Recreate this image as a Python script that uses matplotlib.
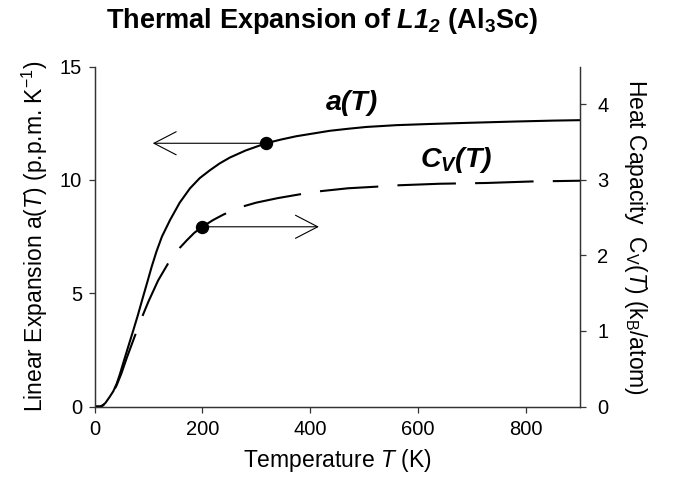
import matplotlib
matplotlib.use("Agg")
import matplotlib.pyplot as plt
import numpy as np

plt.rcParams['font.family'] = ['Liberation Sans', 'DejaVu Sans']
plt.rcParams['mathtext.fontset'] = 'custom'
plt.rcParams['mathtext.rm'] = 'Liberation Sans'
plt.rcParams['mathtext.it'] = 'Liberation Sans:italic'
plt.rcParams['mathtext.bf'] = 'Liberation Sans:italic:bold'
plt.rcParams['mathtext.sf'] = 'Liberation Sans:bold'

# ---- data ----
T_expansion = [0, 10, 15, 20, 28, 35, 41, 47, 53, 62, 72, 80, 90, 98, 106, 115,
               125, 140, 158, 177, 195, 214, 232, 251, 280, 318, 345, 374, 405,
               436, 470, 504, 560, 620, 689, 780, 850, 900]
a_expansion = [0, 0.0, 0.05, 0.15, 0.42, 0.68, 1.0, 1.42, 1.9, 2.6, 3.37, 4.0,
               4.84, 5.5, 6.17, 6.85, 7.5, 8.23, 9.0, 9.63, 10.08, 10.43, 10.73,
               10.99, 11.3, 11.62, 11.78, 11.93, 12.05, 12.17, 12.26, 12.34,
               12.42, 12.47, 12.52, 12.58, 12.62, 12.64]

T_heat = [0, 13, 20, 28.7, 35, 41, 50, 59.6, 72, 85, 100, 118, 138.5, 158, 171,
          185, 200, 220, 238.5, 260, 275.6, 300, 340, 380.6, 417, 470, 520, 565,
          640, 726, 810, 900]
cv_heat = [0, 0.0, 0.04, 0.13, 0.2, 0.28, 0.44, 0.64, 0.88, 1.13, 1.39, 1.67,
           1.92, 2.1, 2.2, 2.3, 2.38, 2.47, 2.54, 2.61, 2.65, 2.7, 2.76, 2.81,
           2.85, 2.89, 2.91, 2.93, 2.95, 2.96, 2.98, 2.99]

a_marker_T, a_marker_val, a_arrow_to_T = 318, 11.62, 108
cv_marker_T, cv_marker_val, cv_arrow_to_T = 200, 2.38, 416

x_ticks = [0, 200, 400, 600, 800]
left_ticks = [0, 5, 10, 15]
right_ticks = [0, 1, 2, 3, 4]

W, H = 680, 491
fig = plt.figure(figsize=(W / 100, H / 100), dpi=100)
x0, x1, y0, y1 = 94.5, 580, 406.5, 66.7
ax = fig.add_axes([x0 / W, 1 - y0 / H, (x1 - x0) / W, (y0 - y1) / H])
ax2 = ax.twinx()

spine_col = '#333333'
for a in (ax, ax2):
    a.spines['top'].set_visible(False)
    for s in ('left', 'right', 'bottom'):
        a.spines[s].set_color(spine_col)
        a.spines[s].set_linewidth(0.9)
    a.patch.set_visible(False)

ax.set_xlim(0, 900)
ax.set_ylim(0, 15)
ax2.set_ylim(0, 4.5)
ax.set_xticks(x_ticks)
ax.set_yticks(left_ticks)
ax2.set_yticks(right_ticks)
ax.tick_params(axis='both', direction='out', length=4.5, width=0.9,
               color=spine_col, labelsize=14.5, pad=4.5)
ax.tick_params(axis='x', pad=5)
ax2.tick_params(axis='y', direction='out', length=4.5, width=0.9,
                color=spine_col, labelsize=14.5, pad=8)

lw = 1.5
ax.plot(T_expansion, a_expansion, color='k', lw=lw, solid_capstyle='butt',
        solid_joinstyle='round')

# dash phase: align a dash start at x = 320 px, as in the reference
on_px, off_px = 58.5, 19.2
pix = ax2.transData.transform(np.column_stack([T_heat, cv_heat]))
seg = np.hypot(np.diff(pix[:, 0]), np.diff(pix[:, 1]))
cum = np.concatenate([[0], np.cumsum(seg)])
L = np.interp(320, pix[:, 0], cum)
offset_px = (-L) % (on_px + off_px)
k = 0.72 / lw
ax2.plot(T_heat, cv_heat, color='k', lw=lw, dash_capstyle='butt',
         dash_joinstyle='round',
         linestyle=(offset_px * k, (on_px * k, off_px * k)))

ax.plot([a_marker_T], [a_marker_val], 'o', color='k', ms=8.6, zorder=5)
ax2.plot([cv_marker_T], [cv_marker_val], 'o', color='k', ms=8.6, zorder=5)

arrow_style = '->,head_length=16,head_width=8.3'
ax.annotate('', xy=(a_arrow_to_T, a_marker_val), xytext=(a_marker_T, a_marker_val),
            arrowprops=dict(arrowstyle=arrow_style, mutation_scale=1, lw=0.8,
                            color='k', shrinkA=0, shrinkB=0))
ax2.annotate('', xy=(cv_arrow_to_T, cv_marker_val), xytext=(cv_marker_T, cv_marker_val),
             arrowprops=dict(arrowstyle=arrow_style, mutation_scale=1, lw=0.8,
                             color='k', shrinkA=0, shrinkB=0))

ax.text(477, 13.08, 'a(T)', fontsize=20.5, fontweight='bold', fontstyle='italic',
        ha='center', va='baseline')
ax.text(670, 10.58, r'C$_{\mathbf{V}}$(T)', fontsize=20.5, fontweight='bold',
        fontstyle='italic', ha='center', va='baseline')

ax.set_xlabel(r'Temperature $\mathit{T}$ (K)', fontsize=16.5, labelpad=6)
ax.set_ylabel(r'Linear Expansion a($\mathit{T}$) (p.p.m. K$^{-1}$)', fontsize=16.5,
              labelpad=7)
ax2.set_ylabel(r'Heat Capacity  C$_{\mathrm{V}}$($\mathit{T}$) (k$_{\mathrm{B}}$/atom)',
               fontsize=16.5, rotation=-90, va='bottom', labelpad=10)

fig.text(322 / W, 1 - 28 / H,
         r'Thermal Expansion of $\mathbf{L1}_{\mathbf{2}}$ (Al$_{\mathsf{3}}$Sc)',
         fontsize=19.5, fontweight='bold', ha='center', va='baseline')

fig.savefig('out.png', dpi=100)
